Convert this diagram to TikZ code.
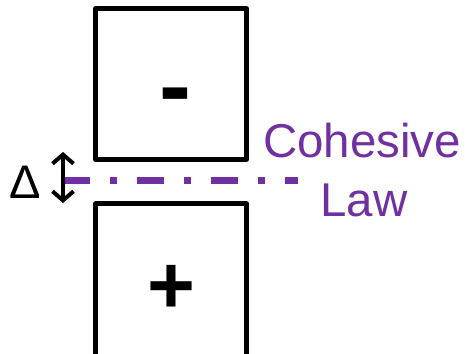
\documentclass[tikz,border=0pt]{standalone}
\usepackage{fontspec}
\setmainfont{Liberation Sans}
\usetikzlibrary{arrows.meta}
\begin{document}
\begin{tikzpicture}[
    platebox/.style={line width=0.1cm, line join=round},
    lawtext/.style={lawpurple, font=\fontsize{27}{30}\selectfont, anchor=base},
  ]
            \useasboundingbox (0,0) rectangle (9.32,7.08);
            \definecolor{lawpurple}{rgb}{0.44, 0.19, 0.63};
            
            \draw [platebox] (1.914,6.91) rectangle (4.93,3.89);
            \draw [platebox] (1.914,-0.3) rectangle (4.93,3.0);
            
            \node[font=\bfseries\fontsize{54.6}{60}\selectfont] (minus) at (3.51,5.02){-};
            \node[font=\bfseries\fontsize{46.7}{52}\selectfont] (plus) at (3.43,1.29){+};
            
            \coordinate (lawstart) at (1.26,3.46);
            \coordinate (lawend) at (5.96,3.46);
            \draw [lawpurple, line width=0.14cm, dash pattern=on 0.54cm off 0.4cm on 0.14cm off 0.4cm] (lawstart)--(lawend);
            
            \coordinate (gaptop) at (1.26,4.04);
            \coordinate (gapbot) at (1.26,3.02);
            \draw [{Straight Barb[length=0.18cm, width=0.42cm]}-{Straight Barb[length=0.18cm, width=0.42cm]}, line width=0.08cm] (gaptop)--(gapbot);
            
            \node[font=\fontsize{26.8}{30}\selectfont] (delta) at (0.5,3.44){Δ};
            \node[lawtext] (cohesive) at (7.24,3.92){Cohesive};
            \node[lawtext] (law) at (7.28,2.74){Law};
            
        \end{tikzpicture}
\end{document}
